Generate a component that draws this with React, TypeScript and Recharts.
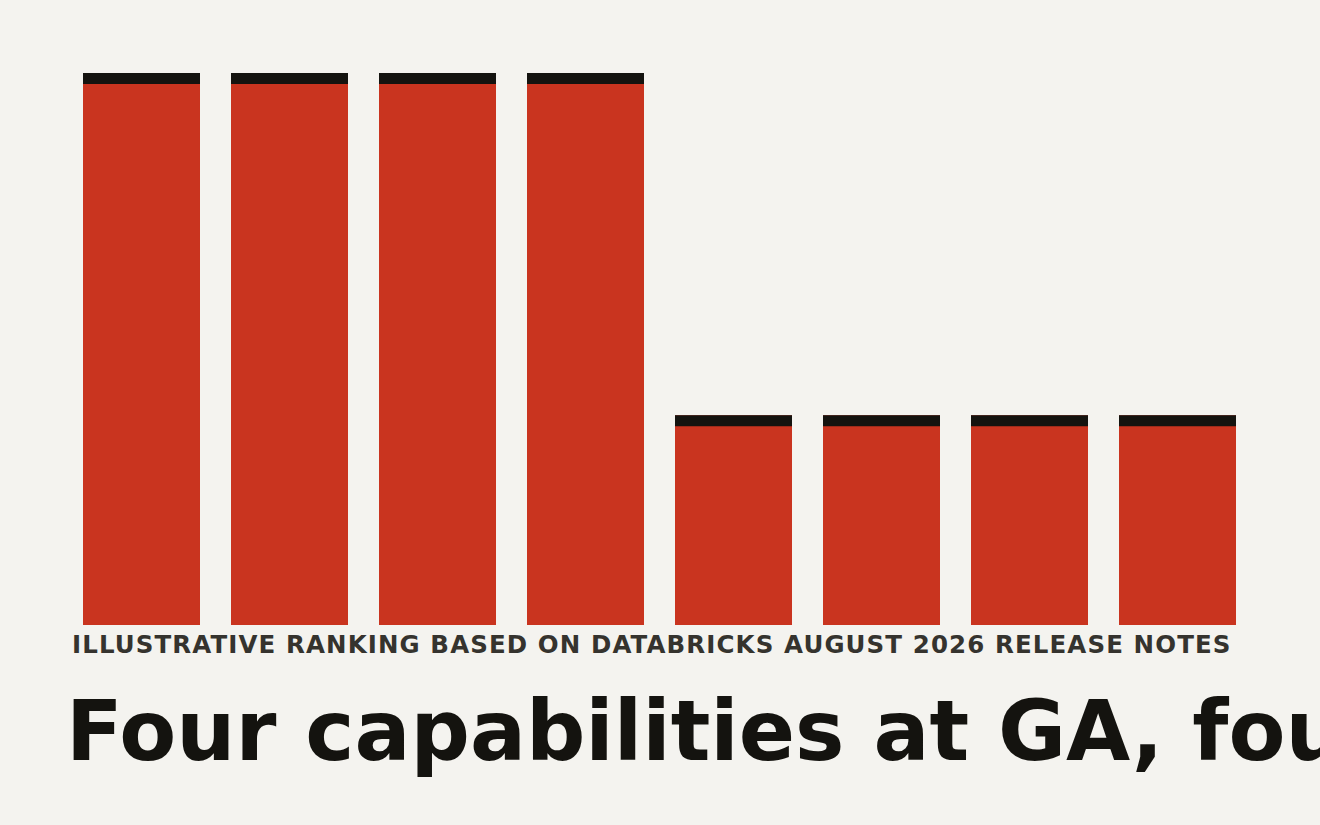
import React from 'react';
import { BarChart, Bar, XAxis, YAxis } from 'recharts';

const capabilities = ['Cap 1', 'Cap 2', 'Cap 3', 'Cap 4', 'Cap 5', 'Cap 6', 'Cap 7', 'Cap 8'];
const scores = [100, 100, 100, 100, 38, 38, 38, 38];
const subtitle = 'ILLUSTRATIVE RANKING BASED ON DATABRICKS AUGUST 2026 RELEASE NOTES';
const title = 'Four capabilities at GA, four in preview';

const data = capabilities.map((name, i) => ({ name, score: scores[i] }));

const RED = '#C9341F';
const INK = '#14130F';

function CappedBar(props: any) {
  const { x, y, width, height } = props;
  if (!height) return null;
  return (
    <g>
      <rect x={x} y={y} width={width} height={height} fill={RED} />
      <rect x={x} y={y} width={width} height={11} fill={INK} />
    </g>
  );
}

export default function App() {
  return (
    <div style={{ position: 'absolute', left: 0, top: 0, width: 1320, height: 825, overflow: 'hidden', background: '#F4F3EF' }}>
      <BarChart
        width={1320}
        height={825}
        data={data}
        margin={{ top: 73, right: 68.5, bottom: 200, left: 67.5 }}
        barCategoryGap={15.5}
      >
        <XAxis dataKey="name" hide />
        <YAxis domain={[0, 100]} hide />
        <Bar dataKey="score" shape={<CappedBar />} isAnimationActive={false} />
      </BarChart>
      <svg width={1320} height={825} style={{ position: 'absolute', left: 0, top: 0, pointerEvents: 'none' }}>
        <text x={72} y={653} fill="#35332E" fontFamily="DejaVu Sans" fontWeight="bold" fontSize={24.5} letterSpacing={1.1}>
          {subtitle}
        </text>
        <text x={66} y={760} fill={INK} fontFamily="DejaVu Sans" fontWeight="bold" fontSize={83}>
          {title}
        </text>
      </svg>
    </div>
  );
}
